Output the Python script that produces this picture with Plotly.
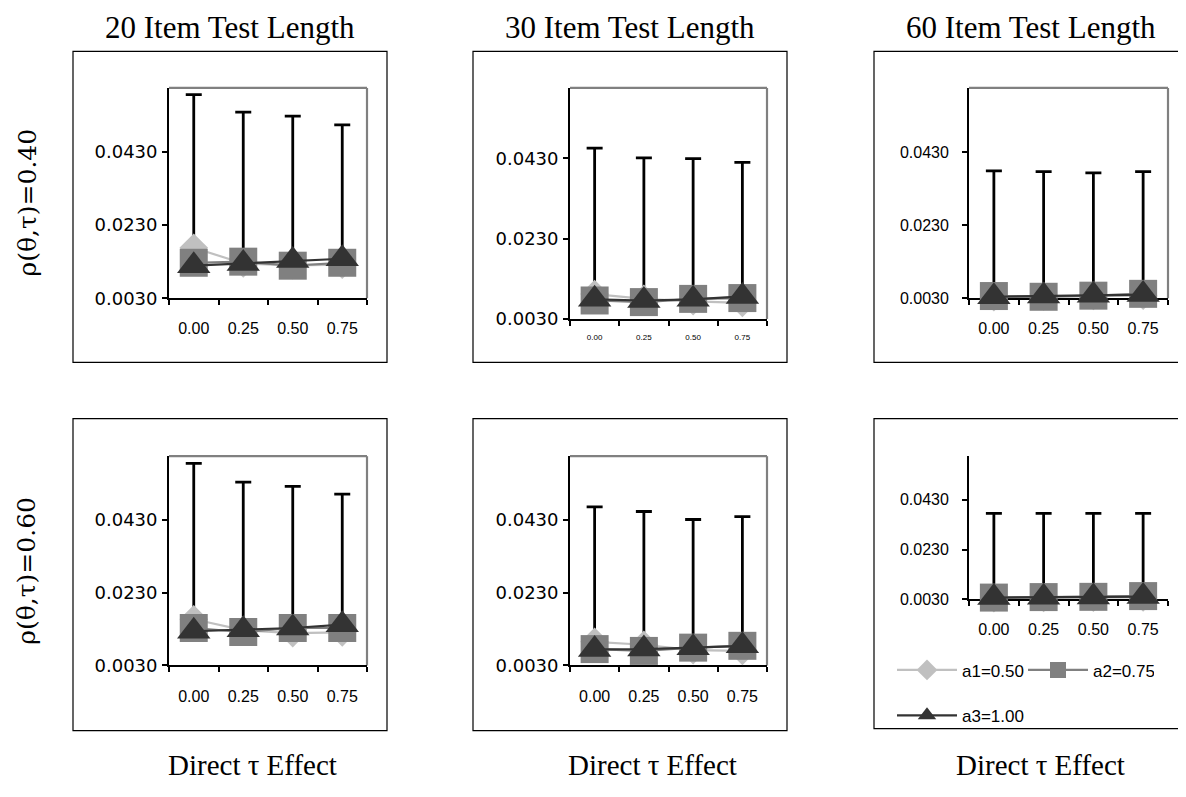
import plotly.graph_objects as go

# Page is 1186x797; browser body margin of 8px -> figure 1170x781 placed at (8,8)
OFF = 8
W, H = 1170, 781

categories = ["0.00", "0.25", "0.50", "0.75"]
series_names = ["a1=0.50", "a2=0.75", "a3=1.00"]
col_titles = ["20 Item Test Length", "30 Item Test Length", "60 Item Test Length"]
row_titles = ["ρ(θ,τ)=0.40", "ρ(θ,τ)=0.60"]
x_title = "Direct τ Effect"
ytick_vals = [0.003, 0.023, 0.043]
ytick_text = ["0.0030", "0.0230", "0.0430"]

# Row 1 (rho = 0.40)
tl_a1 = [0.0168, 0.0125, 0.0120, 0.0122]
tl_a2 = [0.0127, 0.0130, 0.0119, 0.0127]
tl_a3 = [0.0119, 0.0125, 0.0133, 0.0138]
tl_up = [0.0587, 0.0539, 0.0528, 0.0504]

tm_a1 = [0.0092, 0.0080, 0.0074, 0.0070]
tm_a2 = [0.0076, 0.0072, 0.0080, 0.0082]
tm_a3 = [0.0079, 0.0076, 0.0079, 0.0086]
tm_up = [0.0455, 0.0431, 0.0429, 0.0420]

tr_a1 = [0.0033, 0.0035, 0.0036, 0.0037]
tr_a2 = [0.0036, 0.0034, 0.0037, 0.0042]
tr_a3 = [0.0034, 0.0036, 0.0038, 0.0040]
tr_up = [0.0378, 0.0376, 0.0373, 0.0376]

# Row 2 (rho = 0.60)
bl_a1 = [0.0157, 0.0127, 0.0119, 0.0121]
bl_a2 = [0.0133, 0.0122, 0.0133, 0.0133]
bl_a3 = [0.0124, 0.0128, 0.0133, 0.0142]
bl_up = [0.0585, 0.0534, 0.0522, 0.0501]

bm_a1 = [0.0095, 0.0087, 0.0072, 0.0070]
bm_a2 = [0.0075, 0.0070, 0.0079, 0.0084]
bm_a3 = [0.0074, 0.0075, 0.0079, 0.0084]
bm_up = [0.0466, 0.0453, 0.0431, 0.0439]

br_a1 = [0.0035, 0.0036, 0.0037, 0.0038]
br_a2 = [0.0037, 0.0039, 0.0040, 0.0043]
br_a3 = [0.0037, 0.0038, 0.0039, 0.0041]
br_up = [0.0375, 0.0375, 0.0375, 0.0375]

panels = [
    dict(a1=tl_a1, a2=tl_a2, a3=tl_a3, up=tl_up),
    dict(a1=tm_a1, a2=tm_a2, a3=tm_a3, up=tm_up),
    dict(a1=tr_a1, a2=tr_a2, a3=tr_a3, up=tr_up),
    dict(a1=bl_a1, a2=bl_a2, a3=bl_a3, up=bl_up),
    dict(a1=bm_a1, a2=bm_a2, a3=bm_a3, up=bm_up),
    dict(a1=br_a1, a2=br_a2, a3=br_a3, up=br_up),
]

# geometry in page pixels: plot area (x0, x1, y_top, y_axis) and outer frame
plot_boxes = [
    (169, 367, 89, 302), (570, 767, 89, 323), (969, 1168, 89, 302),
    (169, 367, 462, 674), (570, 767, 462, 674), (969, 1168, 462, 607),
]
frames = [
    (73, 387, 52, 367), (473, 787, 52, 367), (874, 1200, 52, 367),
    (73, 387, 424, 740), (473, 787, 424, 740), (874, 1200, 424, 738),
]
YMIN, YMAX = 0.003, 0.0605

colors = ["#c0c0c0", "#808080", "#333333"]
symbols = ["diamond", "square", "triangle-up"]
msizes = [22, 28, 29]


def px(x):
    return (x - OFF) / W


def py(y):
    return 1 - (y - OFF) / H


fig = go.Figure()
shapes = []
layout = {}

for i, (p, box, fr) in enumerate(zip(panels, plot_boxes, frames)):
    n = "" if i == 0 else str(i + 1)
    xa, ya = "x" + n, "y" + n
    x0, x1, yt, yb = box
    col = i % 3
    stretched = col < 2
    # error bars (drawn first, beneath all markers)
    fig.add_trace(go.Scatter(
        x=categories, y=p["a3"], mode="markers",
        marker=dict(size=1, opacity=0), showlegend=False, hoverinfo="skip",
        error_y=dict(type="data", symmetric=False,
                     array=[u - v for u, v in zip(p["up"], p["a3"])],
                     arrayminus=[0] * 4, color="black", thickness=2.8, width=8),
        xaxis=xa, yaxis=ya, cliponaxis=False))
    for k, key in enumerate(["a1", "a2", "a3"]):
        fig.add_trace(go.Scatter(
            x=categories, y=p[key], mode="lines+markers", name=series_names[k],
            line=dict(color=colors[k], width=2.2),
            marker=dict(symbol=symbols[k], size=msizes[k], color=colors[k]),
            showlegend=(i == 5), legend=("legend2" if k == 2 else "legend"),
            xaxis=xa, yaxis=ya, cliponaxis=False))
    xfs = 8 if i == 1 else 16
    layout["xaxis" + n] = dict(
        domain=[px(x0), px(x1)], anchor=ya, type="category",
        range=[-0.5, 3.5], tickson="boundaries", ticks="outside", ticklen=5,
        tickcolor="black", tickwidth=1.5, showline=True, linecolor="black",
        linewidth=1.8, showgrid=False, zeroline=False, layer="below traces",
        tickfont=dict(family="Liberation Sans, Arial", size=xfs, color="black"),
        ticklabelstandoff=(10 if i == 1 else 15), fixedrange=True)
    layout["yaxis" + n] = dict(
        domain=[py(yb), py(yt)], anchor=xa, range=[YMIN, YMAX],
        tickvals=ytick_vals, ticktext=ytick_text, ticks="outside", ticklen=5,
        tickcolor="black", tickwidth=1.5, showline=True, linecolor="black",
        linewidth=1.8, showgrid=False, zeroline=False, layer="below traces",
        tickfont=dict(family=("DejaVu Sans" if stretched else "Liberation Sans, Arial"),
                      size=(18 if stretched else 16), color="black"),
        ticklabelstandoff=(1 if stretched else 10), fixedrange=True)
    # gray plot-area border (top & right), except bottom-right panel
    if i != 5:
        shapes.append(dict(type="line", xref="paper", yref="paper",
                           x0=px(x0), x1=px(x1), y0=py(yt), y1=py(yt),
                           line=dict(color="#808080", width=2.2), layer="below"))
        shapes.append(dict(type="line", xref="paper", yref="paper",
                           x0=px(x1), x1=px(x1), y0=py(yt), y1=py(yb),
                           line=dict(color="#808080", width=2.2), layer="below"))
    fx0, fx1, fy0, fy1 = fr
    shapes.append(dict(type="rect", xref="paper", yref="paper",
                       x0=px(fx0), x1=px(fx1), y0=py(fy0), y1=py(fy1),
                       line=dict(color="black", width=1.2), layer="below"))

annotations = []
serif = "Liberation Serif, Times New Roman"
for cx, t in zip([230, 630, 1031], col_titles):
    annotations.append(dict(text=t, x=px(cx), y=py(28), xref="paper", yref="paper",
                            showarrow=False, xanchor="center", yanchor="middle",
                            font=dict(family=serif, size=31, color="black")))
for cx in [252, 652, 1040]:
    annotations.append(dict(text=x_title, x=px(cx), y=py(775), xref="paper", yref="paper",
                            showarrow=False, xanchor="center", yanchor="middle",
                            font=dict(family=serif, size=29, color="black")))
for cy, t in zip([205, 578], row_titles):
    annotations.append(dict(text=t, x=px(27), y=py(cy), xref="paper", yref="paper",
                            showarrow=False, xanchor="center", yanchor="middle", textangle=-90,
                            font=dict(family="DejaVu Serif", size=25, color="black")))

legend_font = dict(family="Liberation Sans, Arial", size=17, color="black")
fig.update_layout(
    width=W, height=H, autosize=False,
    margin=dict(l=0, r=0, t=0, b=0),
    paper_bgcolor="white", plot_bgcolor="white",
    shapes=shapes, annotations=annotations,
    legend=dict(x=px(892), y=py(679), xanchor="left", yanchor="middle",
                orientation="h", font=legend_font, bgcolor="rgba(0,0,0,0)",
                itemwidth=60, entrywidth=56, tracegroupgap=0),
    legend2=dict(x=px(892), y=py(725), xanchor="left", yanchor="middle",
                 orientation="h", font=legend_font, bgcolor="rgba(0,0,0,0)",
                 itemwidth=60),
    **layout,
)

fig.write_html("out.html")
